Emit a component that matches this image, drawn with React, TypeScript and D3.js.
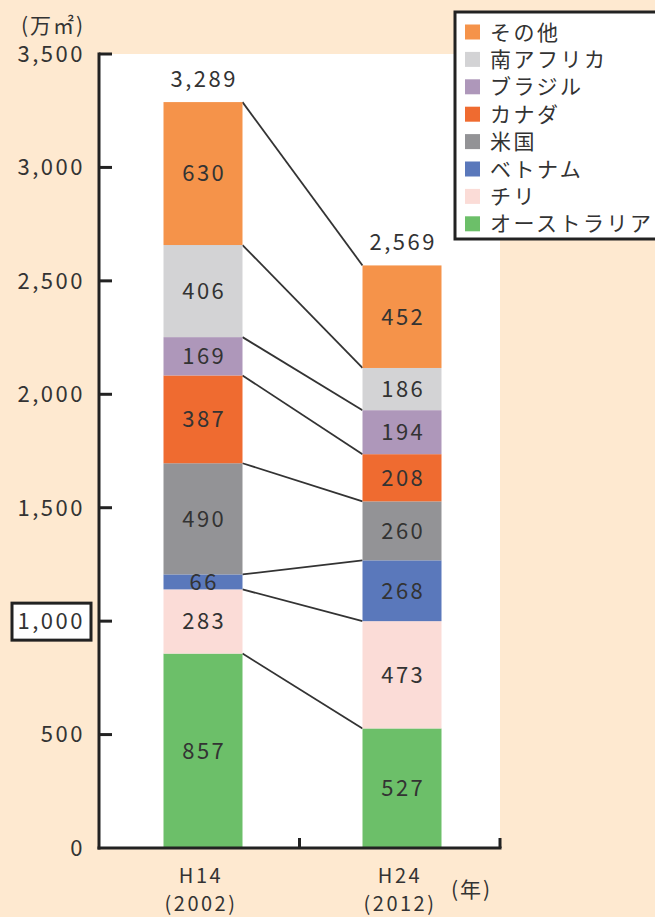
import React from "react";
import * as d3 from "d3";

const years = ["H14", "H24"];
const yearSub = ["(2002)", "(2012)"];
const countries = ["オーストラリア", "チリ", "ベトナム", "米国", "カナダ", "ブラジル", "南アフリカ", "その他"];
const colors = ["#6cbf69", "#fbdcd7", "#5a78bb", "#939396", "#ef6b30", "#ae97ba", "#d3d3d5", "#f5934a"];
const valuesH14 = [857, 283, 66, 490, 387, 169, 406, 630];
const valuesH24 = [527, 473, 268, 260, 208, 194, 186, 452];
const totals = ["3,289", "2,569"];
const yTicks = [0, 500, 1000, 1500, 2000, 2500, 3000, 3500];

const W = 655;
const H = 917;
const FONT = "'Noto Sans CJK JP', 'Noto Sans', sans-serif";
const FS = 22;
const LS = 2.5;

export default function App() {
  const y = d3.scaleLinear().domain([0, 3500]).range([848, 54]);
  const xAxis = d3.scalePoint<string>().domain(["a", "b", "c"]).range([99, 500]);
  const xBar = d3.scalePoint<string>().domain(years).range([203, 402]);
  const barW = 79;
  const series = [valuesH14, valuesH24];
  const stacked = series.map((vals) => {
    let acc = 0;
    return vals.map((v, i) => {
      const s = { y0: acc, y1: acc + v, v, i };
      acc += v;
      return s;
    });
  });
  const fmt = d3.format(",");
  const left = 99;
  const right = 500;
  const bottom = y(0);
  const top = y(3500);

  return (
    <svg width={W} height={H} style={{ display: "block", position: "absolute", left: 0, top: 0 }}>
      <rect x={0} y={0} width={W} height={H} fill="#fee9d0" />
      <rect x={left} y={top} width={right - left} height={bottom - top} fill="#ffffff" />
      {/* connectors */}
      {countries.map((c, i) => (
        <line
          key={"c" + i}
          x1={xBar("H14")! + barW / 2}
          y1={y(stacked[0][i].y1)}
          x2={xBar("H24")! - barW / 2}
          y2={y(stacked[1][i].y1)}
          stroke="#333"
          strokeWidth={1.8}
        />
      ))}
      {/* bars */}
      {years.map((yr, k) =>
        stacked[k].map((s) => (
          <rect
            key={yr + s.i}
            x={xBar(yr)! - barW / 2}
            y={y(s.y1)}
            width={barW}
            height={y(s.y0) - y(s.y1)}
            fill={colors[s.i]}
          />
        ))
      )}
      {years.map((yr, k) =>
        stacked[k].map((s) => (
          <text
            key={"l" + yr + s.i}
            x={xBar(yr)! + LS / 2}
            y={(y(s.y0) + y(s.y1)) / 2}
            dy="0.36em"
            textAnchor="middle"
            fontFamily={FONT}
            fontSize={FS}
            letterSpacing={LS}
            fill="#333"
          >
            {fmt(s.v)}
          </text>
        ))
      )}
      {years.map((yr, k) => (
        <text
          key={"t" + yr}
          x={xBar(yr)! + LS / 2}
          y={y(stacked[k][stacked[k].length - 1].y1) - 15}
          textAnchor="middle"
          fontFamily={FONT}
          fontSize={FS}
          letterSpacing={LS}
          fill="#333"
        >
          {totals[k]}
        </text>
      ))}
      {/* axes */}
      <line x1={left} y1={top - 1.5} x2={left} y2={bottom + 1.5} stroke="#222" strokeWidth={3} />
      <line x1={left - 1.5} y1={bottom} x2={right + 1.5} y2={bottom} stroke="#222" strokeWidth={3} />
      {["b", "c"].map((d) => (
        <line key={d} x1={xAxis(d)!} y1={bottom} x2={xAxis(d)!} y2={bottom - 10} stroke="#222" strokeWidth={3} />
      ))}
      {yTicks.map((t) => (
        <g key={t}>
          {t > 0 && <line x1={left} y1={y(t)} x2={left + 13} y2={y(t)} stroke="#222" strokeWidth={3} />}
          {t === 1000 && (
            <rect x={12} y={y(t) - 18} width={79} height={37} fill="#fff" stroke="#222" strokeWidth={3} />
          )}
          <text
            x={85}
            y={y(t)}
            dy="0.36em"
            textAnchor="end"
            fontFamily={FONT}
            fontSize={FS}
            letterSpacing={LS}
            fill="#333"
          >
            {fmt(t)}
          </text>
        </g>
      ))}
      <text x={21} y={25} dy="0.36em" fontFamily={FONT} fontSize={21} letterSpacing={2} fill="#333">
        (万㎡)
      </text>
      {/* x labels */}
      {years.map((yr, k) => (
        <g key={"x" + yr}>
          <text x={xBar(yr)! - 2} y={876} dy="0.36em" textAnchor="middle" fontFamily={FONT} fontSize={20} letterSpacing={2.5} fill="#333">
            {yr}
          </text>
          <text x={xBar(yr)! - 2} y={904} dy="0.36em" textAnchor="middle" fontFamily={FONT} fontSize={20} letterSpacing={2.5} fill="#333">
            {yearSub[k]}
          </text>
        </g>
      ))}
      <text x={451} y={889} dy="0.36em" fontFamily={FONT} fontSize={21} letterSpacing={2} fill="#333">
        (年)
      </text>
      {/* legend */}
      <rect x={455} y={12} width={210} height={227} fill="#fff" stroke="#222" strokeWidth={3} />
      {countries
        .slice()
        .reverse()
        .map((c, j) => {
          const i = countries.length - 1 - j;
          const cy = 32 + j * 27.4;
          return (
            <g key={"lg" + c}>
              <rect x={465} y={cy - 7.5} width={15} height={15} fill={colors[i]} />
              <text x={490} y={cy} dy="0.36em" fontFamily={FONT} fontSize={21} letterSpacing={2.5} fill="#333">
                {c}
              </text>
            </g>
          );
        })}
    </svg>
  );
}
